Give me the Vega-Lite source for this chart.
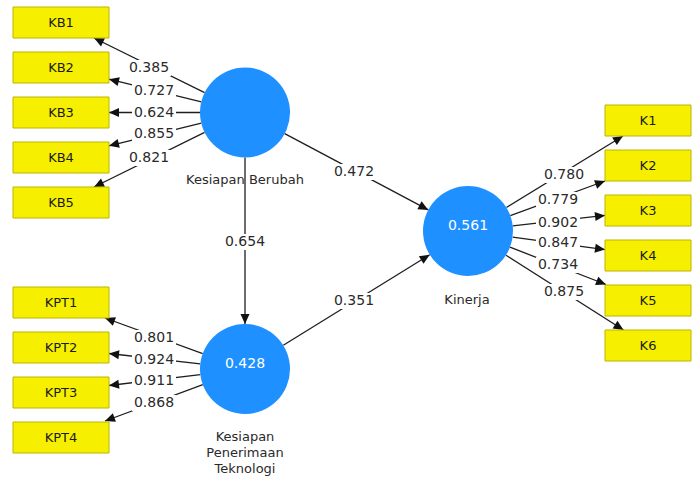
{
  "$schema": "https://vega.github.io/schema/vega-lite/v6.json",
  "width": 694,
  "height": 480,
  "padding": 0,
  "autosize": {"type": "fit", "contains": "padding"},
  "background": "white",
  "config": {"view": {"stroke": null}, "font": "DejaVu Sans"},
  "datasets": {
    "boxes": [
      {"id": "KB1", "x1": 13, "x2": 109, "y1": 7, "y2": 38, "cx": 61, "cy": 22.5},
      {"id": "KB2", "x1": 13, "x2": 109, "y1": 52, "y2": 83, "cx": 61, "cy": 67.5},
      {"id": "KB3", "x1": 13, "x2": 109, "y1": 97, "y2": 128, "cx": 61, "cy": 112.5},
      {"id": "KB4", "x1": 13, "x2": 109, "y1": 142, "y2": 173, "cx": 61, "cy": 157.5},
      {"id": "KB5", "x1": 13, "x2": 109, "y1": 187, "y2": 218, "cx": 61, "cy": 202.5},
      {"id": "KPT1", "x1": 13, "x2": 109, "y1": 287, "y2": 318, "cx": 61, "cy": 302.5},
      {"id": "KPT2", "x1": 13, "x2": 109, "y1": 332, "y2": 363, "cx": 61, "cy": 347.5},
      {"id": "KPT3", "x1": 13, "x2": 109, "y1": 377, "y2": 408, "cx": 61, "cy": 392.5},
      {"id": "KPT4", "x1": 13, "x2": 109, "y1": 422, "y2": 453, "cx": 61, "cy": 437.5},
      {"id": "K1", "x1": 605, "x2": 691, "y1": 105, "y2": 136, "cx": 648, "cy": 120.5},
      {"id": "K2", "x1": 605, "x2": 691, "y1": 150, "y2": 181, "cx": 648, "cy": 165.5},
      {"id": "K3", "x1": 605, "x2": 691, "y1": 195, "y2": 226, "cx": 648, "cy": 210.5},
      {"id": "K4", "x1": 605, "x2": 691, "y1": 240, "y2": 271, "cx": 648, "cy": 255.5},
      {"id": "K5", "x1": 605, "x2": 691, "y1": 285, "y2": 316, "cx": 648, "cy": 300.5},
      {"id": "K6", "x1": 605, "x2": 691, "y1": 330, "y2": 361, "cx": 648, "cy": 345.5}
    ],
    "nodes": [
      {"name": "Kesiapan Berubah", "x": 245, "y": 112.5, "r2": "", "ly": 112.5},
      {"name": "Kesiapan Penerimaan Teknologi", "x": 245, "y": 369, "r2": "0.428", "ly": 364},
      {"name": "Kinerja", "x": 468, "y": 231, "r2": "0.561", "ly": 226}
    ],
    "edges": [
      {"from": "Kesiapan Berubah", "to": "KB1", "sx": 204.6, "sy": 92.7, "ex": 94, "ey": 38, "angle": -63.9, "value": "0.385", "lx": 149, "ly": 68},
      {"from": "Kesiapan Berubah", "to": "KB2", "sx": 201.3, "sy": 101.8, "ex": 109, "ey": 79.2, "angle": -76.3, "value": "0.727", "lx": 154, "ly": 91},
      {"from": "Kesiapan Berubah", "to": "KB3", "sx": 200, "sy": 112.5, "ex": 109, "ey": 112.5, "angle": -90, "value": "0.624", "lx": 154, "ly": 113},
      {"from": "Kesiapan Berubah", "to": "KB4", "sx": 201.3, "sy": 123.2, "ex": 109, "ey": 145.8, "angle": -103.7, "value": "0.855", "lx": 154, "ly": 134},
      {"from": "Kesiapan Berubah", "to": "KB5", "sx": 204.6, "sy": 132.3, "ex": 94, "ey": 187, "angle": -116.1, "value": "0.821", "lx": 149, "ly": 158},
      {"from": "Kesiapan Penerimaan Teknologi", "to": "KPT1", "sx": 202.7, "sy": 353.7, "ex": 105, "ey": 318, "angle": -70.1, "value": "0.801", "lx": 154, "ly": 338},
      {"from": "Kesiapan Penerimaan Teknologi", "to": "KPT2", "sx": 200.3, "sy": 363.8, "ex": 109, "ey": 353.5, "angle": -83.3, "value": "0.924", "lx": 154, "ly": 360},
      {"from": "Kesiapan Penerimaan Teknologi", "to": "KPT3", "sx": 200.4, "sy": 374.7, "ex": 109, "ey": 385.5, "angle": -97.3, "value": "0.911", "lx": 154, "ly": 381},
      {"from": "Kesiapan Penerimaan Teknologi", "to": "KPT4", "sx": 202.8, "sy": 384.7, "ex": 105, "ey": 421, "angle": -110.4, "value": "0.868", "lx": 154, "ly": 403},
      {"from": "Kinerja", "to": "K1", "sx": 506.4, "sy": 207.5, "ex": 623, "ey": 136, "angle": 58.5, "value": "0.780", "lx": 564, "ly": 175},
      {"from": "Kinerja", "to": "K2", "sx": 510.3, "sy": 215.6, "ex": 605, "ey": 181, "angle": 70, "value": "0.779", "lx": 558, "ly": 200},
      {"from": "Kinerja", "to": "K3", "sx": 512.7, "sy": 225.9, "ex": 605, "ey": 215.4, "angle": 83.5, "value": "0.902", "lx": 558, "ly": 223},
      {"from": "Kinerja", "to": "K4", "sx": 512.6, "sy": 237.1, "ex": 605, "ey": 249.6, "angle": 97.8, "value": "0.847", "lx": 558, "ly": 243},
      {"from": "Kinerja", "to": "K5", "sx": 510, "sy": 247.2, "ex": 606, "ey": 284.5, "angle": 111.1, "value": "0.734", "lx": 558, "ly": 265},
      {"from": "Kinerja", "to": "K6", "sx": 506, "sy": 255.2, "ex": 623.5, "ey": 330, "angle": 122.5, "value": "0.875", "lx": 564, "ly": 292},
      {"from": "Kesiapan Berubah", "to": "Kinerja", "sx": 284.7, "sy": 133.6, "ex": 428.3, "ey": 209.9, "angle": 118, "value": "0.472", "lx": 354, "ly": 172},
      {"from": "Kesiapan Penerimaan Teknologi", "to": "Kinerja", "sx": 283.3, "sy": 345.3, "ex": 429.7, "ey": 254.7, "angle": 58.3, "value": "0.351", "lx": 354, "ly": 301},
      {"from": "Kesiapan Berubah", "to": "Kesiapan Penerimaan Teknologi", "sx": 245, "sy": 157.5, "ex": 245, "ey": 324, "angle": 180, "value": "0.654", "lx": 245, "ly": 242}
    ],
    "names": [
      {"text": "Kesiapan Berubah", "x": 245, "y": 180},
      {"text": "Kinerja", "x": 467, "y": 300},
      {"text": "Kesiapan", "x": 245, "y": 437},
      {"text": "Penerimaan", "x": 245, "y": 453},
      {"text": "Teknologi", "x": 245, "y": 469}
    ]
  },
  "layer": [
    {
      "data": {"name": "edges"},
      "mark": {"type": "rule", "color": "#1e1e1e", "strokeWidth": 1.3},
      "encoding": {
        "x": {"field": "sx", "type": "quantitative", "scale": {"domain": [0, 694], "nice": false, "zero": false}, "axis": null},
        "y": {"field": "sy", "type": "quantitative", "scale": {"domain": [0, 480], "nice": false, "zero": false, "reverse": true}, "axis": null},
        "x2": {"field": "ex"},
        "y2": {"field": "ey"}
      }
    },
    {
      "data": {"name": "edges"},
      "mark": {"type": "point", "shape": "M0,0L0.9,2L-0.9,2Z", "filled": true, "color": "#111111", "opacity": 1, "size": 100},
      "encoding": {
        "x": {"field": "ex", "type": "quantitative", "scale": {"domain": [0, 694], "nice": false, "zero": false}, "axis": null},
        "y": {"field": "ey", "type": "quantitative", "scale": {"domain": [0, 480], "nice": false, "zero": false, "reverse": true}, "axis": null},
        "angle": {"field": "angle", "type": "quantitative", "scale": null}
      }
    },
    {
      "data": {"name": "boxes"},
      "mark": {"type": "rect", "fill": "#f6f000", "stroke": "#bdb400", "strokeWidth": 1},
      "encoding": {
        "x": {"field": "x1", "type": "quantitative", "scale": {"domain": [0, 694], "nice": false, "zero": false}, "axis": null},
        "x2": {"field": "x2"},
        "y": {"field": "y1", "type": "quantitative", "scale": {"domain": [0, 480], "nice": false, "zero": false, "reverse": true}, "axis": null},
        "y2": {"field": "y2"}
      }
    },
    {
      "data": {"name": "boxes"},
      "mark": {"type": "text", "font": "DejaVu Sans", "fontSize": 13, "color": "#1a1a1a", "align": "center", "baseline": "middle"},
      "encoding": {
        "x": {"field": "cx", "type": "quantitative", "scale": {"domain": [0, 694], "nice": false, "zero": false}, "axis": null},
        "y": {"field": "cy", "type": "quantitative", "scale": {"domain": [0, 480], "nice": false, "zero": false, "reverse": true}, "axis": null},
        "text": {"field": "id"}
      }
    },
    {
      "data": {"name": "nodes"},
      "mark": {"type": "point", "shape": "circle", "filled": true, "color": "#1e90ff", "opacity": 1, "size": 8100},
      "encoding": {
        "x": {"field": "x", "type": "quantitative", "scale": {"domain": [0, 694], "nice": false, "zero": false}, "axis": null},
        "y": {"field": "y", "type": "quantitative", "scale": {"domain": [0, 480], "nice": false, "zero": false, "reverse": true}, "axis": null}
      }
    },
    {
      "data": {"name": "nodes"},
      "mark": {"type": "text", "font": "DejaVu Sans", "fontSize": 14, "color": "white", "align": "center", "baseline": "middle"},
      "encoding": {
        "x": {"field": "x", "type": "quantitative", "scale": {"domain": [0, 694], "nice": false, "zero": false}, "axis": null},
        "y": {"field": "ly", "type": "quantitative", "scale": {"domain": [0, 480], "nice": false, "zero": false, "reverse": true}, "axis": null},
        "text": {"field": "r2"}
      }
    },
    {
      "data": {"name": "edges"},
      "mark": {"type": "point", "shape": "M-1,-0.36L1,-0.36L1,0.36L-1,0.36Z", "filled": true, "color": "white", "opacity": 1, "size": 1936},
      "encoding": {
        "x": {"field": "lx", "type": "quantitative", "scale": {"domain": [0, 694], "nice": false, "zero": false}, "axis": null},
        "y": {"field": "ly", "type": "quantitative", "scale": {"domain": [0, 480], "nice": false, "zero": false, "reverse": true}, "axis": null}
      }
    },
    {
      "data": {"name": "edges"},
      "mark": {"type": "text", "font": "DejaVu Sans", "fontSize": 14, "color": "#2a2a2a", "align": "center", "baseline": "middle"},
      "encoding": {
        "x": {"field": "lx", "type": "quantitative", "scale": {"domain": [0, 694], "nice": false, "zero": false}, "axis": null},
        "y": {"field": "ly", "type": "quantitative", "scale": {"domain": [0, 480], "nice": false, "zero": false, "reverse": true}, "axis": null},
        "text": {"field": "value"}
      }
    },
    {
      "data": {"name": "names"},
      "mark": {"type": "text", "font": "DejaVu Sans", "fontSize": 13, "color": "#2a2a2a", "align": "center", "baseline": "middle"},
      "encoding": {
        "x": {"field": "x", "type": "quantitative", "scale": {"domain": [0, 694], "nice": false, "zero": false}, "axis": null},
        "y": {"field": "y", "type": "quantitative", "scale": {"domain": [0, 480], "nice": false, "zero": false, "reverse": true}, "axis": null},
        "text": {"field": "text"}
      }
    }
  ]
}
